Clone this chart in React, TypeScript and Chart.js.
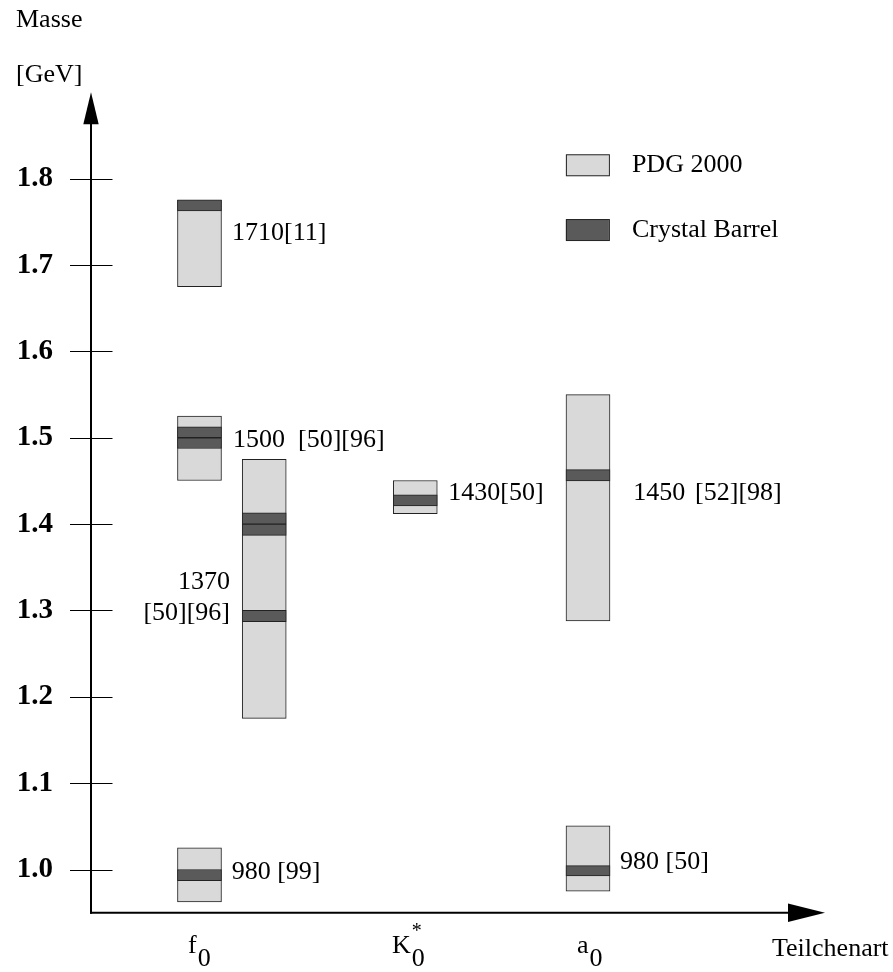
import React, { useEffect, useRef } from "react";
import { Chart, registerables } from "chart.js";

Chart.register(...registerables);

// ---- data ----
const columnX = { f0a: 14.78, f0b: 23.6, k0: 44.18, a0: 67.71 }; // x-units (0..100)
const pdgX = [columnX.f0a, columnX.f0a, columnX.f0a, columnX.f0b, columnX.k0, columnX.a0, columnX.a0];
const pdgLow = [1.675, 1.4505, 0.9625, 1.175, 1.412, 1.288, 0.975];
const pdgHigh = [1.775, 1.525, 1.025, 1.475, 1.4505, 1.55, 1.0505];

const cbX = [columnX.f0a, columnX.f0a, columnX.f0a, columnX.f0a, columnX.f0b, columnX.f0b, columnX.f0b, columnX.k0, columnX.a0, columnX.a0];
const cbLow = [1.7625, 1.5, 1.4875, 0.987, 1.4, 1.387, 1.287, 1.421, 1.45, 0.9925];
const cbHigh = [1.7755, 1.5125, 1.5, 1.0, 1.413, 1.4, 1.3, 1.434, 1.463, 1.0045];

const yTicks = [1.0, 1.1, 1.2, 1.3, 1.4, 1.5, 1.6, 1.7, 1.8];

// annotation labels: text, x (units), y (mass), align
const labelTexts = ["1710[11]", "1500", "[50][96]", "1370", "[50][96]", "1430[50]", "1450", "[52][98]", "980 [99]", "980 [50]"];
const labelX = [19.21, 19.35, 28.2, 18.94, 18.94, 48.68, 73.88, 82.3, 19.17, 72.07];
const labelY = [1.737, 1.4975, 1.4975, 1.3324, 1.297, 1.436, 1.436, 1.436, 0.9966, 1.0082];
const labelAlign = ["left", "left", "left", "right", "right", "left", "left", "left", "left", "left"];

const categoryMain = ["f", "K", "a"];
const categorySub = ["0", "0", "0"];
const categorySup = ["", "*", ""];
const categoryX = [13.22, 41.0, 66.2];

const legendLabels = ["PDG 2000", "Crystal Barrel"];

const LIGHT = "#d9d9d9";
const DARK = "#5a5a5a";
const EDGE = "#222222";
const SERIF = "'Liberation Serif', 'Times New Roman', serif";

const decorPlugin = {
  id: "decor",
  afterDraw(chart: any) {
    const ctx = chart.ctx as CanvasRenderingContext2D;
    const xs = chart.scales.x;
    const ys = chart.scales.y;
    const area = chart.chartArea;
    const left = area.left;
    const bottom = area.bottom;
    ctx.save();
    ctx.strokeStyle = "#000";
    ctx.fillStyle = "#000";

    // y axis with arrow
    ctx.lineWidth = 2;
    ctx.beginPath();
    ctx.moveTo(left, bottom + 1);
    ctx.lineTo(left, area.top + 30);
    ctx.stroke();
    ctx.beginPath();
    ctx.moveTo(left, area.top);
    ctx.lineTo(left - 7.7, area.top + 32);
    ctx.lineTo(left + 7.7, area.top + 32);
    ctx.closePath();
    ctx.fill();

    // x axis with arrow
    ctx.beginPath();
    ctx.moveTo(left - 1, bottom);
    ctx.lineTo(area.right - 35, bottom);
    ctx.stroke();
    ctx.beginPath();
    ctx.moveTo(area.right, bottom);
    ctx.lineTo(area.right - 37, bottom - 9.2);
    ctx.lineTo(area.right - 37, bottom + 9.2);
    ctx.closePath();
    ctx.fill();

    // tick marks crossing the axis
    ctx.lineWidth = 1.2;
    for (const t of yTicks) {
      const py = Math.round(ys.getPixelForValue(t)) + 0.5;
      ctx.beginPath();
      ctx.moveTo(left - 21, py);
      ctx.lineTo(left + 21.5, py);
      ctx.stroke();
    }

    // annotation labels
    ctx.font = `26px ${SERIF}`;
    ctx.textBaseline = "middle";
    for (let i = 0; i < labelTexts.length; i++) {
      ctx.textAlign = labelAlign[i] as CanvasTextAlign;
      ctx.fillText(labelTexts[i], xs.getPixelForValue(labelX[i]), ys.getPixelForValue(labelY[i]));
    }

    // category labels with subscripts
    ctx.textAlign = "left";
    ctx.textBaseline = "alphabetic";
    for (let i = 0; i < categoryMain.length; i++) {
      const px = xs.getPixelForValue(categoryX[i]);
      ctx.font = `26px ${SERIF}`;
      ctx.fillText(categoryMain[i], px, bottom + 40);
      const w = ctx.measureText(categoryMain[i]).width;
      ctx.fillText(categorySub[i], px + w + 1, bottom + 53);
      if (categorySup[i]) {
        ctx.font = `20px ${SERIF}`;
        ctx.fillText(categorySup[i], px + w + 1, bottom + 24);
      }
    }

    // axis titles
    ctx.font = `26px ${SERIF}`;
    ctx.fillText("Masse", 16, 27);
    ctx.fillText("[GeV]", 16, 82);
    ctx.fillText("Teilchenart", 772, bottom + 43);

    // legend
    const legendColors = [LIGHT, DARK];
    const legendY = [1.8155, 1.7405];
    for (let i = 0; i < legendLabels.length; i++) {
      const cy = ys.getPixelForValue(legendY[i]);
      const bx = xs.getPixelForValue(64.7);
      ctx.fillStyle = legendColors[i];
      ctx.fillRect(bx, cy - 10.5, 43, 21);
      ctx.strokeStyle = EDGE;
      ctx.lineWidth = 1;
      ctx.strokeRect(bx + 0.5, cy - 10.5, 43, 21);
      ctx.fillStyle = "#000";
      ctx.textBaseline = "middle";
      ctx.fillText(legendLabels[i], bx + 66, cy);
    }
    ctx.restore();
  },
};

export default function App() {
  const ref = useRef<HTMLCanvasElement | null>(null);
  useEffect(() => {
    if (!ref.current) return;
    const chart = new Chart(ref.current, {
      type: "bar",
      data: {
        datasets: [
          {
            label: "Crystal Barrel",
            data: cbX.map((x, i) => ({ x, y: [cbLow[i], cbHigh[i]] })) as any,
            backgroundColor: DARK,
            borderColor: EDGE,
            borderWidth: 1,
            borderSkipped: false,
            barThickness: 44,
            grouped: false,
            order: 1,
          },
          {
            label: "PDG 2000",
            data: pdgX.map((x, i) => ({ x, y: [pdgLow[i], pdgHigh[i]] })) as any,
            backgroundColor: LIGHT,
            borderColor: EDGE,
            borderWidth: 1,
            borderSkipped: false,
            barThickness: 44,
            grouped: false,
            order: 2,
          },
        ],
      },
      options: {
        animation: false,
        responsive: false,
        events: [],
        layout: { padding: { left: 0, top: 92.3, right: 68, bottom: 59.3 } },
        plugins: { legend: { display: false }, tooltip: { enabled: false } },
        scales: {
          x: { type: "linear", min: 0, max: 100, offset: false, display: false },
          y: {
            type: "linear",
            min: 0.95,
            max: 1.9,
            afterFit: (s: any) => {
              s.width = 91;
            },
            afterBuildTicks: (s: any) => {
              s.ticks = yTicks.map((v) => ({ value: v }));
            },
            ticks: {
              color: "#000",
              padding: 38,
              font: { family: "'Liberation Serif', serif", size: 29, weight: "bold" },
              callback: (v: any) => Number(v).toFixed(1),
            },
            grid: { display: false, drawTicks: false },
            border: { display: false },
          },
        },
      },
      plugins: [decorPlugin],
    });
    return () => chart.destroy();
  }, []);
  return (
    <div style={{ position: "fixed", left: 0, top: 0, width: 893, height: 972, background: "#fff" }}>
      <canvas ref={ref} width={893} height={972} style={{ display: "block" }} />
    </div>
  );
}
